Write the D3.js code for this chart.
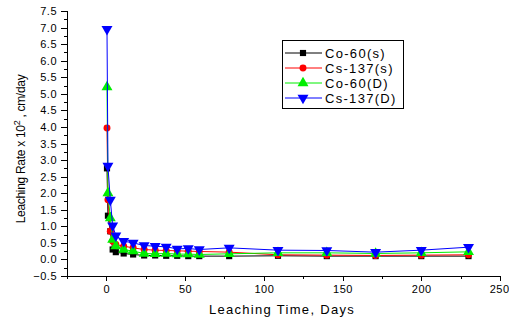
<!DOCTYPE html>
<html>
<head>
<meta charset="utf-8">
<script src="https://cdn.jsdelivr.net/npm/d3@7"></script>
<style>
  body { margin: 0; background: #fff; }
  svg { font-family: "Liberation Sans", Arial, sans-serif; }
  .axis path, .axis line { stroke: #000; shape-rendering: crispEdges; }
  .axis text { font-size: 11px; letter-spacing: 0.5px; fill: #000; }
</style>
</head>
<body>
<div id="chart"></div>
<script>
// leaching time (days) and rates (x 10^2 cm/day)
const days = [0.4, 1, 2.5, 4, 6, 11, 17, 24, 31, 38, 45, 52, 59, 78, 109, 140, 171, 200, 230];
const co60s = [2.75, 1.32, 0.85, 0.3, 0.22, 0.18, 0.15, 0.12, 0.12, 0.11, 0.11, 0.1, 0.1, 0.1, 0.11, 0.1, 0.1, 0.1, 0.1];
const cs137s = [3.97, 1.8, 0.85, 0.55, 0.45, 0.4, 0.35, 0.3, 0.28, 0.27, 0.26, 0.25, 0.24, 0.22, 0.14, 0.13, 0.12, 0.13, 0.14];
const co60d = [5.2, 2.0, 1.25, 0.6, 0.4, 0.3, 0.25, 0.18, 0.17, 0.18, 0.16, 0.16, 0.15, 0.17, 0.2, 0.2, 0.18, 0.2, 0.23];
const cs137d = [6.95, 2.82, 1.8, 1.02, 0.72, 0.55, 0.5, 0.42, 0.4, 0.38, 0.32, 0.33, 0.3, 0.35, 0.28, 0.27, 0.22, 0.28, 0.37];

const seriesNames = ["Co-60(s)", "Cs-137(s)", "Co-60(D)", "Cs-137(D)"];
const seriesValues = [co60s, cs137s, co60d, cs137d];
const colors = ["#000000", "#ff0000", "#00ee00", "#0000ff"];
const symbols = [d3.symbolSquare, d3.symbolCircle, d3.symbolTriangle, d3.symbolTriangle];

const xTicks = [0, 50, 100, 150, 200, 250];
const xMinor = [-25, 25, 75, 125, 175, 225];
const yTicks = d3.range(-0.5, 7.51, 0.5);
const yMinor = d3.range(-0.25, 7.5, 0.5);

const width = 509, height = 320;
const svg = d3.select("#chart").append("svg")
  .attr("width", width)
  .attr("height", height);

const x = d3.scaleLinear().domain([-25, 250]).range([67, 500]);
const y = d3.scaleLinear().domain([-0.5, 7.5]).range([276, 11]);

// axes
svg.append("g").attr("class", "axis")
  .attr("transform", "translate(0,276)")
  .call(d3.axisBottom(x).tickValues(xMinor).tickSize(3).tickFormat(""));
const xAxis = svg.append("g").attr("class", "axis")
  .attr("transform", "translate(0,276)")
  .call(d3.axisBottom(x).tickValues(xTicks).tickSize(5).tickSizeOuter(0).tickPadding(4).tickFormat(d3.format("d")));
// last label sits at the window edge
xAxis.selectAll(".tick text").filter(d => d == 250).attr("text-anchor", "end").attr("dx", 9);

svg.append("g").attr("class", "axis")
  .attr("transform", "translate(67,0)")
  .call(d3.axisLeft(y).tickValues(yMinor).tickSize(3).tickFormat(""));
svg.append("g").attr("class", "axis")
  .attr("transform", "translate(67,0)")
  .call(d3.axisLeft(y).tickValues(yTicks).tickSize(6).tickSizeOuter(0).tickPadding(4).tickFormat(d3.format(".1f")));

// titles
svg.append("text")
  .attr("x", 282).attr("y", 314)
  .attr("text-anchor", "middle")
  .style("font-size", "13px").style("letter-spacing", "1.3px")
  .text("Leaching Time, Days");

const yt = svg.append("text")
  .attr("transform", "translate(25,149) rotate(-90)")
  .attr("text-anchor", "middle")
  .style("font-size", "12px").style("letter-spacing", "-0.3px");
yt.append("tspan").text("Leaching Rate x 10");
yt.append("tspan").attr("dy", -5).style("font-size", "9px").text("2");
yt.append("tspan").attr("dy", 5).text(" , cm/day");

// series
const line = d3.line().x(d => x(d[0])).y(d => y(d[1]));

seriesValues.forEach((vals, i) => {
  const pts = days.map((d, j) => [d, vals[j]]);
  const g = svg.append("g");
  g.append("path")
    .datum(pts)
    .attr("fill", "none")
    .attr("stroke", colors[i])
    .attr("stroke-width", 1)
    .attr("d", line);
  g.selectAll("path.m")
    .data(pts)
    .enter().append("path")
    .attr("class", "m")
    .attr("transform", d => "translate(" + x(d[0]) + "," + y(d[1]) + ")" + (i == 3 ? " rotate(180)" : ""))
    .attr("d", d3.symbol().type(symbols[i]).size(i >= 2 ? 52 : 38))
    .attr("fill", colors[i]);
});

// legend
const legend = svg.append("g").attr("transform", "translate(282,40)");
legend.append("rect")
  .attr("width", 121).attr("height", 68)
  .attr("fill", "#fff").attr("stroke", "#000").attr("stroke-width", 1)
  .attr("shape-rendering", "crispEdges");

seriesNames.forEach((name, i) => {
  const row = legend.append("g").attr("transform", "translate(0," + (13 + i * 15) + ")");
  row.append("line")
    .attr("x1", 3).attr("x2", 40)
    .attr("stroke", colors[i]);
  row.append("path")
    .attr("transform", "translate(21,0)" + (i == 3 ? " rotate(180)" : ""))
    .attr("d", d3.symbol().type(symbols[i]).size(i >= 2 ? 52 : 38))
    .attr("fill", colors[i]);
  row.append("text")
    .attr("x", 43).attr("y", 5)
    .style("font-size", "13px").style("letter-spacing", "1.3px")
    .text(name);
});
</script>
</body>
</html>
